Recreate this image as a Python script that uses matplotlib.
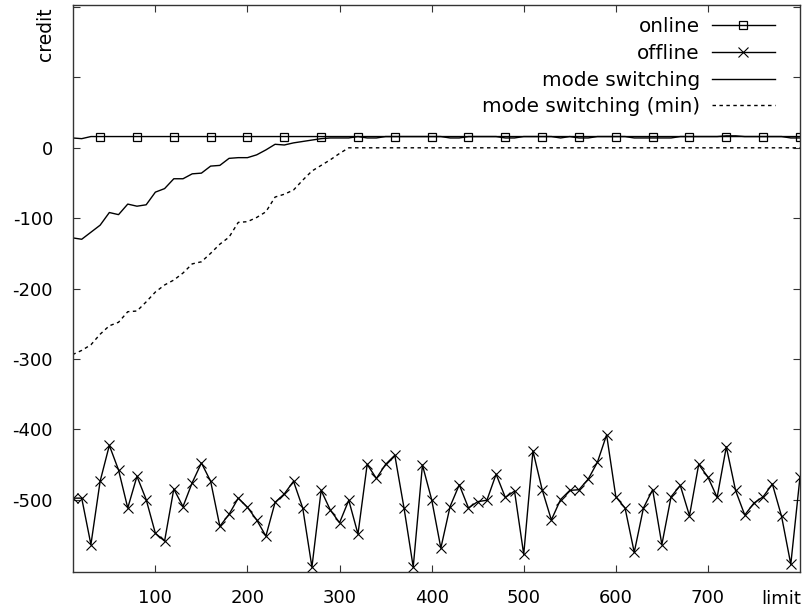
import numpy as np
import matplotlib
matplotlib.use("Agg")
import matplotlib.pyplot as plt

plt.rcParams['font.family'] = ['DejaVu Sans']

# limit values, sampled every 10
limit = np.arange(10, 810, 10)

online = [14, 13, 16, 16, 16, 16, 16, 16, 16, 16,
          16, 16, 16, 16, 16, 16, 16, 16, 16, 16,
          16, 16, 16, 16, 16, 16, 16, 16, 16, 16,
          16, 16, 16, 16, 16, 16, 16, 16, 16, 16,
          16, 16, 16, 16, 16, 16, 16, 16, 16, 16,
          16, 16, 16, 16, 16, 16, 16, 16, 16, 16,
          16, 16, 16, 16, 16, 16, 16, 16, 16, 16,
          16, 16, 16, 16, 16, 16, 16, 16, 16, 16]

offline = [-498, -498, -564, -474, -423, -458, -512, -467, -500, -548,
           -559, -485, -510, -476, -448, -474, -538, -521, -498, -511,
           -529, -552, -504, -492, -474, -512, -596, -487, -515, -533,
           -501, -549, -450, -470, -450, -437, -512, -596, -451, -500,
           -569, -510, -479, -512, -503, -501, -464, -497, -488, -578,
           -431, -486, -529, -500, -487, -486, -471, -447, -408, -496,
           -512, -575, -512, -486, -564, -496, -480, -523, -450, -468,
           -497, -425, -487, -522, -505, -496, -478, -524, -592, -468]

mode_switching = [-128, -130, -120, -110, -92, -95, -80, -83, -81, -63,
                  -58, -44, -44, -37, -36, -26, -25, -15, -14, -14,
                  -10, -3, 5, 4, 7, 9, 11, 13, 14, 14,
                  14, 16, 14, 14, 16, 16, 16, 16, 16, 16,
                  16, 14, 14, 16, 16, 16, 16, 14, 14, 16,
                  16, 16, 16, 14, 16, 14, 14, 16, 16, 16,
                  16, 14, 14, 14, 14, 14, 16, 16, 16, 16,
                  16, 17, 17, 16, 16, 16, 16, 16, 14, 14]

mode_switching_min = [-294, -288, -280, -265, -253, -248, -233, -232, -219, -205,
                      -195, -188, -178, -165, -162, -150, -137, -127, -106, -105,
                      -99, -91, -70, -66, -60, -46, -33, -25, -17, -8,
                      0, 0, 0, 0, 0, 0, 0, 0, 0, 0,
                      0, 0, 0, 0, 0, 0, 0, 0, 0, 0,
                      0, 0, 0, 0, 0, 0, 0, 0, 0, 0,
                      0, 0, 0, 0, 0, 0, 0, 0, 0, 0,
                      0, 0, 0, 0, 0, 0, 0, 0, 0, 0]

xticks = [100, 200, 300, 400, 500, 600, 700]
yticks = [-500, -400, -300, -200, -100, 0, 100, 200]
ytick_labels = ['-500', '-400', '-300', '-200', '-100', '0', '', '']

fig = plt.figure(figsize=(8.02, 6.10), dpi=100)
ax = fig.add_axes([72.5 / 802, 1 - 572 / 610, (800 - 72.5) / 802, (572 - 5) / 610])

ax.plot(limit, online, color='black', lw=1.0, marker='s', ms=6, mfc='none',
        mew=0.9, markevery=(3, 4), label='online')
ax.plot(limit, offline, color='black', lw=1.0, marker='x', ms=7.5, mew=0.8,
        label='offline')
ax.plot(limit, mode_switching, color='black', lw=1.0, label='mode switching')
ax.plot(limit, mode_switching_min, color='black', lw=1.0,
        linestyle=(0, (2.5, 2.5)), label='mode switching (min)')

ax.set_xlim(10, 800)
ax.set_ylim(-603, 203)
ax.set_xticks(xticks)
ax.set_yticks(yticks)
ax.set_yticklabels(ytick_labels)

ax.tick_params(direction='in', length=5, width=0.8, top=True, right=True,
               labelsize=13, color='#333333')
ax.tick_params(axis='x', pad=12)
ax.tick_params(axis='y', pad=14)
for s in ax.spines.values():
    s.set_linewidth(1.0)
    s.set_color('#333333')

leg = ax.legend(loc='upper right', bbox_to_anchor=(0.9656, 0.979),
                frameon=False, markerfirst=False, fontsize=14.4,
                handlelength=3.15, handletextpad=0.6, labelspacing=0.39,
                borderaxespad=0, borderpad=0, numpoints=1)

fig.text(46 / 802, 1 - 34 / 610, 'credit', rotation=90, ha='center',
         va='center', fontsize=13.5)
fig.text(801 / 802, 1 - 599 / 610, 'limit', ha='right', va='center',
         fontsize=13)

fig.savefig('out.png', dpi=100)
